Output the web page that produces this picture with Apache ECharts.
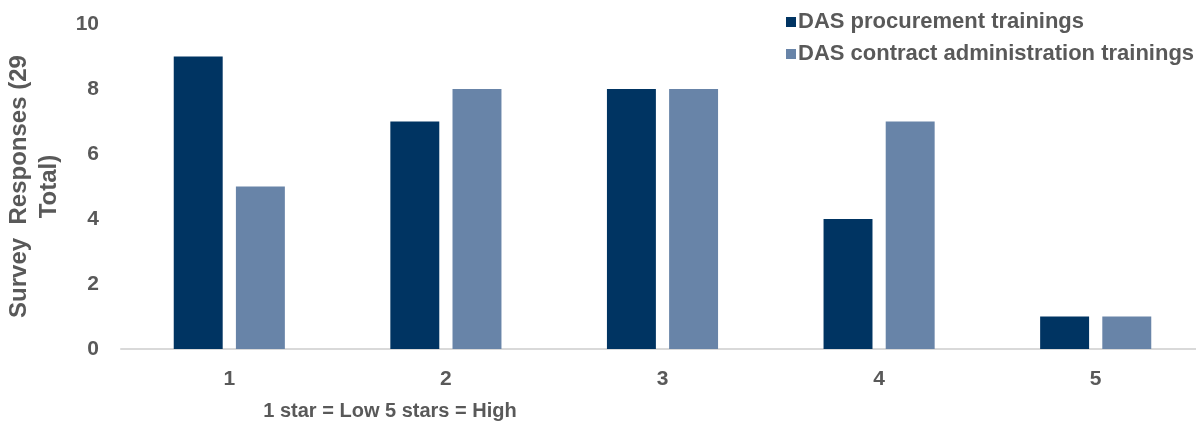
<!DOCTYPE html>
<html><head><meta charset="utf-8">
<script src="https://cdn.jsdelivr.net/npm/echarts@6/dist/echarts.min.js"></script>
<style>html,body{margin:0;padding:0;background:#fff}#c{width:1196px;height:421px}</style>
</head><body><div id="c"></div>
<script>
const categories = ['1','2','3','4','5'];
const procurement = [9,7,8,4,1];
const contractAdmin = [5,8,8,7,1];
const seriesNames = ['DAS procurement trainings','DAS contract administration trainings'];
const yTicks = [0,2,4,6,8,10];

const FONT = '"Liberation Sans", Arial, sans-serif';
const chart = echarts.init(document.getElementById('c'));
chart.setOption({
  animation:false,
  textStyle:{fontFamily:FONT},
  title:{text:'1 star = Low 5 stars = High', left:385, top:396, textAlign:'center',
    textStyle:{fontFamily:FONT,fontSize:20,fontWeight:'bold',color:'#595959'}},
  legend:{orient:'vertical', left:781, top:6, itemWidth:10, itemHeight:10, itemGap:10,
    icon:'rect', textStyle:{fontFamily:FONT,fontSize:22,fontWeight:'bold',color:'#595959',padding:[0,0,0,-3]}},
  grid:{left:121, top:24, width:1083, height:325, containLabel:false, outerBoundsMode:'none'},
  xAxis:{type:'category', data:categories,
    axisLine:{lineStyle:{color:'#d9d9d9',width:2}}, axisTick:{show:false},
    axisLabel:{fontFamily:FONT,fontSize:21,fontWeight:'bold',color:'#595959',margin:20}},
  yAxis:{type:'value', min:0, max:10, interval:2,
    name:'Survey  Responses (29\nTotal)', nameLocation:'middle', nameGap:52, nameRotate:90,
    nameTextStyle:{fontFamily:FONT,fontSize:24,fontWeight:'bold',color:'#595959',lineHeight:30,align:'center'},
    splitLine:{show:false}, axisLine:{show:false}, axisTick:{show:false},
    axisLabel:{fontFamily:FONT,fontSize:21,fontWeight:'bold',color:'#595959',margin:22,
      formatter:v=>yTicks.includes(v)?String(v):''}},
  series:[
    {name:seriesNames[0], type:'bar', data:procurement, barWidth:'22.6%', barGap:'27%',
     itemStyle:{color:'#003462'}},
    {name:seriesNames[1], type:'bar', data:contractAdmin, barWidth:'22.6%', barGap:'27%',
     itemStyle:{color:'#6884a8'}}
  ]
});
</script></body></html>
